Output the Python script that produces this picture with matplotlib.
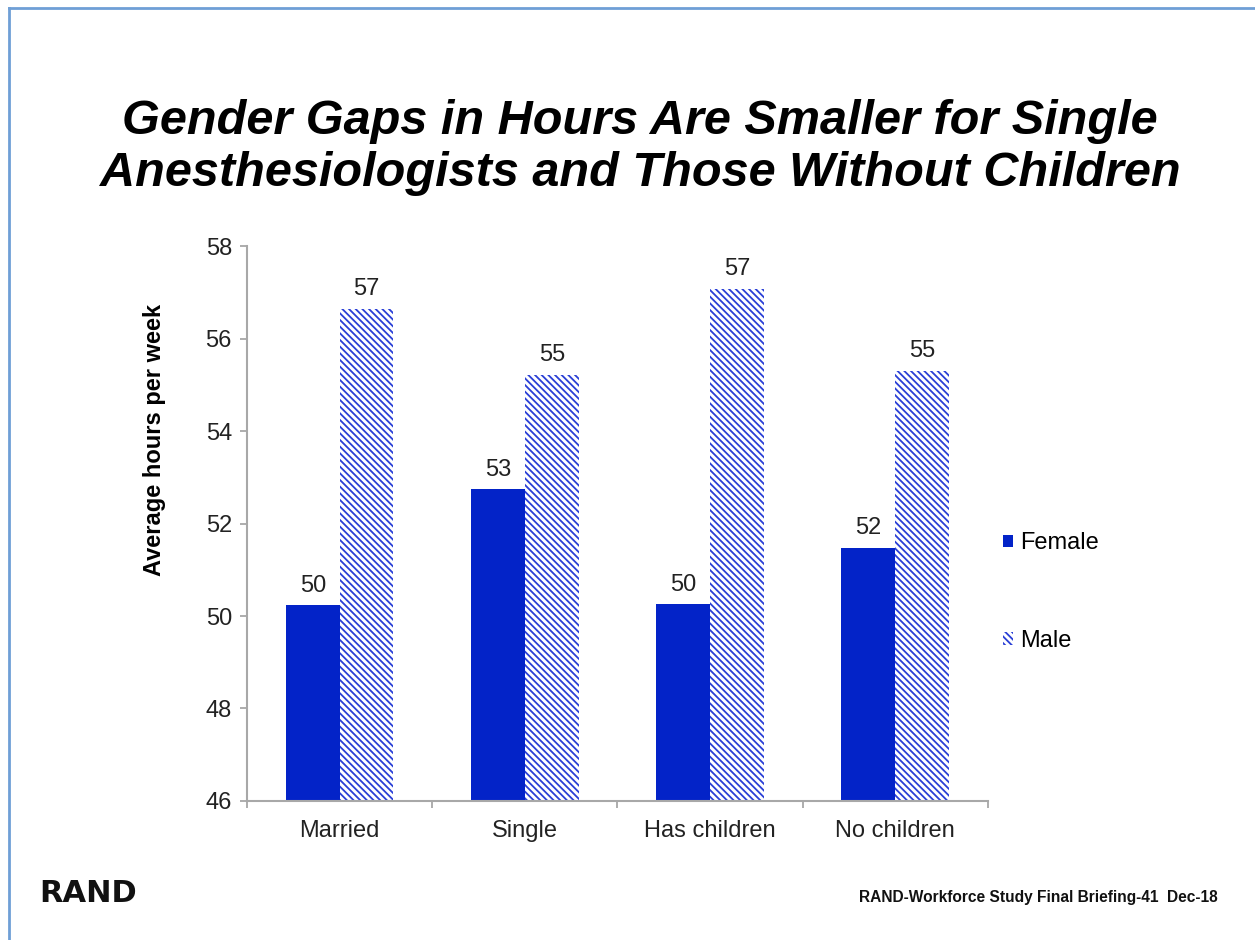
import numpy as np
import matplotlib
matplotlib.use("Agg")
import matplotlib.pyplot as plt
from matplotlib.lines import Line2D

plt.rcParams['font.family'] = ['Liberation Sans', 'DejaVu Sans']
plt.rcParams['hatch.linewidth'] = 1.3

# --- data ---
categories = ['Married', 'Single', 'Has children', 'No children']
female = [50.24, 52.75, 50.25, 51.48]
male = [56.65, 55.22, 57.08, 55.31]
female_labels = ['50', '53', '50', '52']
male_labels = ['57', '55', '57', '55']

blue = '#0323c8'
hatch_blue = '#2a3fd6'
fs = 17

fig = plt.figure(figsize=(12.55, 9.4), dpi=100)
ax = fig.add_axes([0.197, 0.148, 0.59, 0.59])

x = np.arange(len(categories))
w = 0.29
b1 = ax.bar(x - w / 2, female, w, color=blue, linewidth=0, label='Female')
b2 = ax.bar(x + w / 2, male, w, color='white', edgecolor=hatch_blue, hatch='\\\\\\\\\\',
            linewidth=0, label='Male')

for xi, v, t in zip(x - w / 2, female, female_labels):
    ax.annotate(t, (xi, v), xytext=(0, 6), textcoords='offset points',
                ha='center', va='bottom', fontsize=fs, color='#222222')
for xi, v, t in zip(x + w / 2, male, male_labels):
    ax.annotate(t, (xi, v), xytext=(0, 6), textcoords='offset points',
                ha='center', va='bottom', fontsize=fs, color='#222222')

ax.set_ylim(46, 58)
ax.set_yticks(np.arange(46, 59, 2))
ax.set_xlim(-0.5, len(categories) - 0.5)
ax.set_xticks(x)
ax.set_xticklabels(categories)
ax.set_xticks(np.arange(-0.5, len(categories)), minor=True)
ax.tick_params(axis='x', which='major', length=0, pad=14, labelsize=fs, labelcolor='#222222')
ax.tick_params(axis='x', which='minor', length=5, color='#a0a0a0', width=1.2)
ax.tick_params(axis='y', length=5, color='#a0a0a0', width=1.2, pad=6, labelsize=fs,
               labelcolor='#222222')
for s in ['top', 'right']:
    ax.spines[s].set_visible(False)
for s in ['left', 'bottom']:
    ax.spines[s].set_color('#a8a8a8')
    ax.spines[s].set_linewidth(1.5)
ax.set_ylabel('Average hours per week', fontsize=fs, fontweight='bold')
ax.yaxis.set_label_coords(-0.11, 0.65)

fig.legend(handles=[b1, b2], labels=['Female', 'Male'], loc='center left',
           bbox_to_anchor=(0.799, 0.370), frameon=False, fontsize=fs,
           labelspacing=3.2, handlelength=0.45, handleheight=0.45, handletextpad=0.3,
           borderpad=0, borderaxespad=0)

fig.text(0.51, 0.843, 'Gender Gaps in Hours Are Smaller for Single\nAnesthesiologists and Those Without Children',
         ha='center', va='center', fontsize=35, fontweight='bold', fontstyle='italic',
         linespacing=1.2)

fig.text(0.031, 0.05, 'RAND', fontsize=22, fontweight='bold', ha='left', va='center',
         color='#111111', family='DejaVu Sans')
fig.text(0.970, 0.045, 'RAND-Workforce Study Final Briefing-41  Dec-18', fontsize=11.2,
         fontweight='bold', ha='right', va='center', color='#111111')

# slide border (left and top edges)
fig.add_artist(Line2D([0.0068, 0.0068], [0, 0.9915], transform=fig.transFigure,
                      color='#6f9fd6', linewidth=2))
fig.add_artist(Line2D([0.0068, 1], [0.9915, 0.9915], transform=fig.transFigure,
                      color='#6f9fd6', linewidth=2))

fig.savefig('out.png', dpi=100)
